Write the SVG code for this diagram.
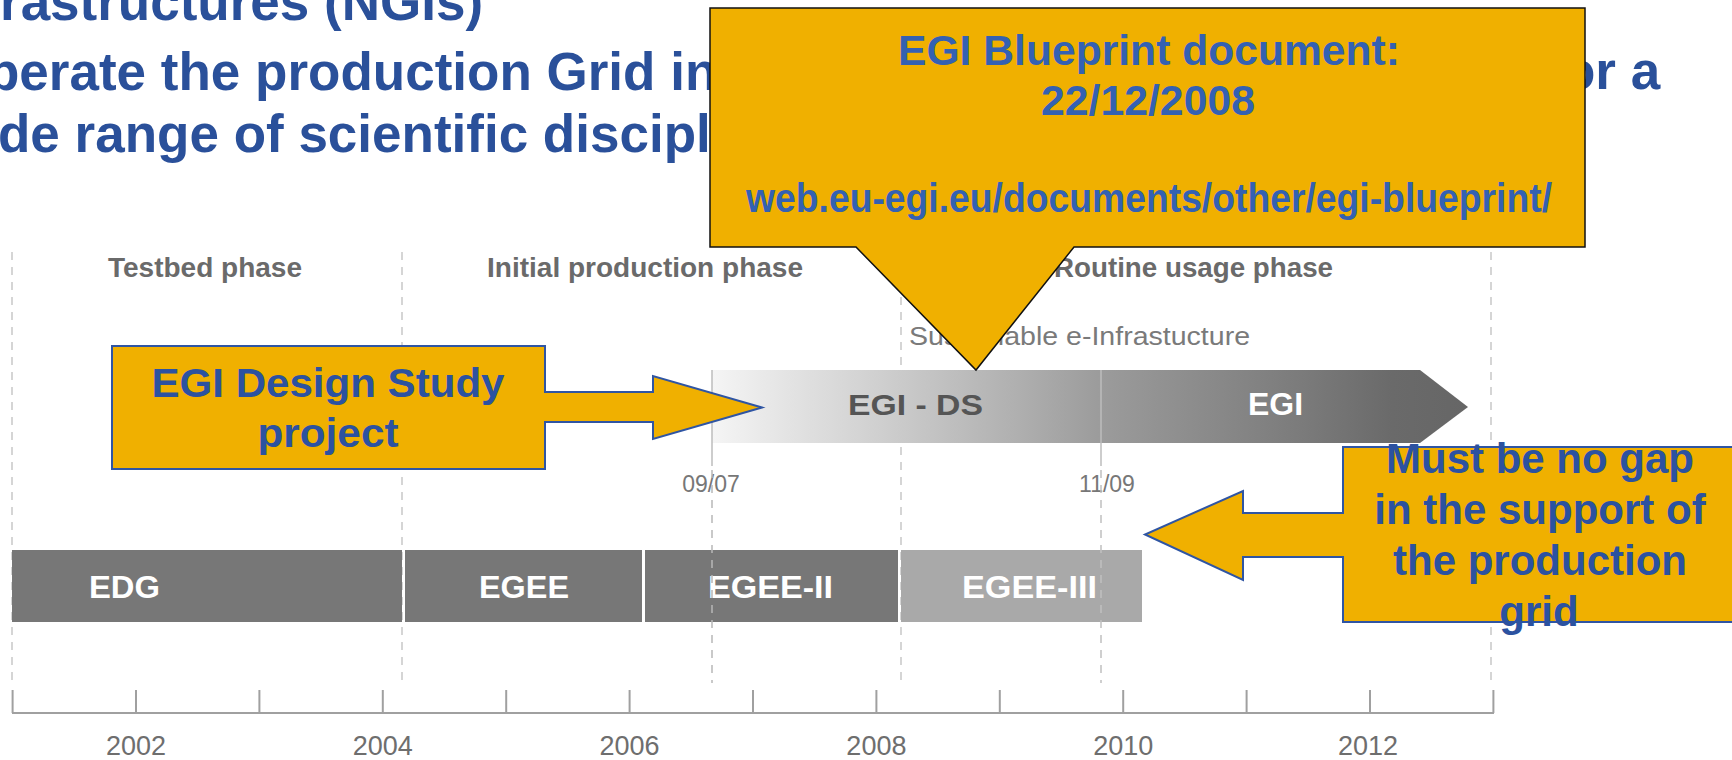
<svg xmlns="http://www.w3.org/2000/svg" width="1732" height="760" viewBox="0 0 1732 760">
  <defs>
    <linearGradient id="egiGrad" x1="0" y1="0" x2="1" y2="0">
      <stop offset="0" stop-color="#f5f5f5"/>
      <stop offset="0.12" stop-color="#e0e0e0"/>
      <stop offset="0.2" stop-color="#d3d3d3"/>
      <stop offset="0.4" stop-color="#b0b0b0"/>
      <stop offset="0.51" stop-color="#9c9c9c"/>
      <stop offset="0.78" stop-color="#7b7b7b"/>
      <stop offset="0.9" stop-color="#6a6a6a"/>
      <stop offset="1" stop-color="#666666"/>
    </linearGradient>
    <style>
      text { font-family: "Liberation Sans", Arial, Helvetica, sans-serif; }
      .title { font-size: 53px; font-weight: bold; fill: #2A509A; }
      .phase { font-size: 27.5px; font-weight: bold; fill: #6a6a6a; }
      .note { font-size: 26px; fill: #7a7a7a; }
      .date { font-size: 23px; fill: #777777; text-anchor: middle; }
      .year { font-size: 27px; fill: #6e6e6e; text-anchor: middle; }
      .barlbl { font-size: 32px; font-weight: bold; fill: #ffffff; }
      .divider { stroke: #c8c8c8; stroke-width: 1.5; stroke-dasharray: 8 7; fill: none; }
      .solidline { stroke: #bdbdbd; stroke-width: 1.5; fill: none; }
      .axis { stroke: #a0a0a0; stroke-width: 2; fill: none; }
      .darkbar { fill: #777777; }
      .lightbar { fill: #a9a9a9; }
      .callout { fill: #F0B000; stroke: #2F55A3; stroke-width: 2; }
      .callout-black { fill: #F0B000; stroke: #111111; stroke-width: 1.5; }
      .ctext { font-size: 42px; font-weight: bold; fill: #2C52A0; text-anchor: middle; }
      .btext { font-size: 42px; font-weight: bold; fill: #3461B2; text-anchor: middle; }
    </style>
  </defs>

  <rect x="0" y="0" width="1732" height="760" fill="#ffffff"/>

  <g id="title">
    <text class="title" x="0" y="20">rastructures (NGIs)</text>
    <text class="title" x="-13" y="90">perate the production Grid in</text>
    <text class="title" x="1563" y="89">or a</text>
    <text class="title" x="-2" y="152">de range of scientific discipl</text>
  </g>

  <g id="dividers">
    <line class="divider" x1="12" y1="252" x2="12" y2="683"/>
    <line class="divider" x1="402" y1="252" x2="402" y2="683"/>
    <line class="divider" x1="901" y1="252" x2="901" y2="683"/>
    <line class="divider" x1="1491" y1="252" x2="1491" y2="683"/>
  </g>

  <g id="phase-labels">
    <text class="phase" x="108" y="277" textLength="194" lengthAdjust="spacingAndGlyphs">Testbed phase</text>
    <text class="phase" x="487" y="277" textLength="316" lengthAdjust="spacingAndGlyphs">Initial production phase</text>
    <text class="phase" x="1054" y="277" textLength="279" lengthAdjust="spacingAndGlyphs">Routine usage phase</text>
    <text class="note" x="909" y="345" textLength="341" lengthAdjust="spacingAndGlyphs">Sustainable e-Infrastucture</text>
  </g>

  <g id="egi-arrow">
    <path d="M712,370 H1420 L1468,407 L1420,443 H712 Z" fill="url(#egiGrad)"/>
    <line class="solidline" x1="712" y1="370" x2="712" y2="466"/>
    <line class="solidline" x1="1101" y1="370" x2="1101" y2="466"/>
    <text x="848" y="415" font-size="30" font-weight="bold" fill="#555555" textLength="135" lengthAdjust="spacingAndGlyphs">EGI - DS</text>
    <text x="1248" y="415" font-size="31" font-weight="bold" fill="#ffffff" textLength="55" lengthAdjust="spacingAndGlyphs">EGI</text>
    <text class="date" x="711" y="492">09/07</text>
    <text class="date" x="1107" y="492">11/09</text>
  </g>

  <g id="bars">
    <g id="bar-edg">
      <rect class="darkbar" x="12" y="550" width="390" height="72"/>
      <text class="barlbl" x="89" y="598" textLength="71" lengthAdjust="spacingAndGlyphs">EDG</text>
    </g>
    <g id="bar-egee">
      <rect class="darkbar" x="405" y="550" width="237" height="72"/>
      <text class="barlbl" x="479" y="598" textLength="90" lengthAdjust="spacingAndGlyphs">EGEE</text>
    </g>
    <g id="bar-egee2">
      <rect class="darkbar" x="645" y="550" width="253" height="72"/>
      <text class="barlbl" x="708" y="598" textLength="125" lengthAdjust="spacingAndGlyphs">EGEE-II</text>
    </g>
    <g id="bar-egee3">
      <rect class="lightbar" x="901" y="550" width="241" height="72"/>
      <text class="barlbl" x="962" y="598" textLength="135" lengthAdjust="spacingAndGlyphs">EGEE-III</text>
    </g>
  </g>

  <g id="milestone-lines">
    <line class="divider" x1="712" y1="470" x2="712" y2="683" style="stroke:#b8b8b8"/>
    <line class="divider" x1="1101" y1="470" x2="1101" y2="683" style="stroke:#c0c0c0"/>
  </g>

  <g id="axis">
    <line class="axis" x1="12" y1="713" x2="1494" y2="713"/>
    <line class="axis" x1="12.6" y1="690" x2="12.6" y2="713"/>
    <line class="axis" x1="136" y1="690" x2="136" y2="713"/>
    <line class="axis" x1="259.4" y1="690" x2="259.4" y2="713"/>
    <line class="axis" x1="382.8" y1="690" x2="382.8" y2="713"/>
    <line class="axis" x1="506.2" y1="690" x2="506.2" y2="713"/>
    <line class="axis" x1="629.6" y1="690" x2="629.6" y2="713"/>
    <line class="axis" x1="753" y1="690" x2="753" y2="713"/>
    <line class="axis" x1="876.4" y1="690" x2="876.4" y2="713"/>
    <line class="axis" x1="999.8" y1="690" x2="999.8" y2="713"/>
    <line class="axis" x1="1123.2" y1="690" x2="1123.2" y2="713"/>
    <line class="axis" x1="1246.6" y1="690" x2="1246.6" y2="713"/>
    <line class="axis" x1="1370" y1="690" x2="1370" y2="713"/>
    <line class="axis" x1="1493.4" y1="690" x2="1493.4" y2="713"/>
    <text class="year" x="136" y="755">2002</text>
    <text class="year" x="382.8" y="755">2004</text>
    <text class="year" x="629.6" y="755">2006</text>
    <text class="year" x="876.4" y="755">2008</text>
    <text class="year" x="1123.2" y="755">2010</text>
    <text class="year" x="1368" y="755">2012</text>
  </g>

  <g id="callout-blueprint">
    <path class="callout-black" d="M710,8 H1585 V247 H1074 L976,370 L856,247 H710 Z"/>
    <text class="btext" x="1149" y="65" textLength="502" lengthAdjust="spacingAndGlyphs">EGI Blueprint document:</text>
    <text class="btext" x="1148" y="115" textLength="214" lengthAdjust="spacingAndGlyphs">22/12/2008</text>
    <text class="btext" x="1149" y="212" font-size="40" style="font-size:40px" textLength="806" lengthAdjust="spacingAndGlyphs">web.eu-egi.eu/documents/other/egi-blueprint/</text>
  </g>

  <g id="callout-design-study">
    <path class="callout" d="M112,346 H545 V392 H653 V376 L762,407.5 L653,439 V422 H545 V469 H112 Z"/>
    <text class="ctext" x="328" y="397" font-size="41" style="font-size:41px" textLength="353" lengthAdjust="spacingAndGlyphs">EGI Design Study</text>
    <text class="ctext" x="328" y="447" font-size="41" style="font-size:41px" textLength="141" lengthAdjust="spacingAndGlyphs">project</text>
  </g>

  <g id="callout-no-gap">
    <path class="callout" d="M1343,447 H1740 V622 H1343 V557 H1243 V580 L1145,534.5 L1243,491 V513 H1343 Z"/>
    <text class="ctext" x="1540" y="473">Must be no gap</text>
    <text class="ctext" x="1540" y="524">in the support of</text>
    <text class="ctext" x="1540" y="575">the production</text>
    <text class="ctext" x="1539" y="626">grid</text>
  </g>
</svg>
